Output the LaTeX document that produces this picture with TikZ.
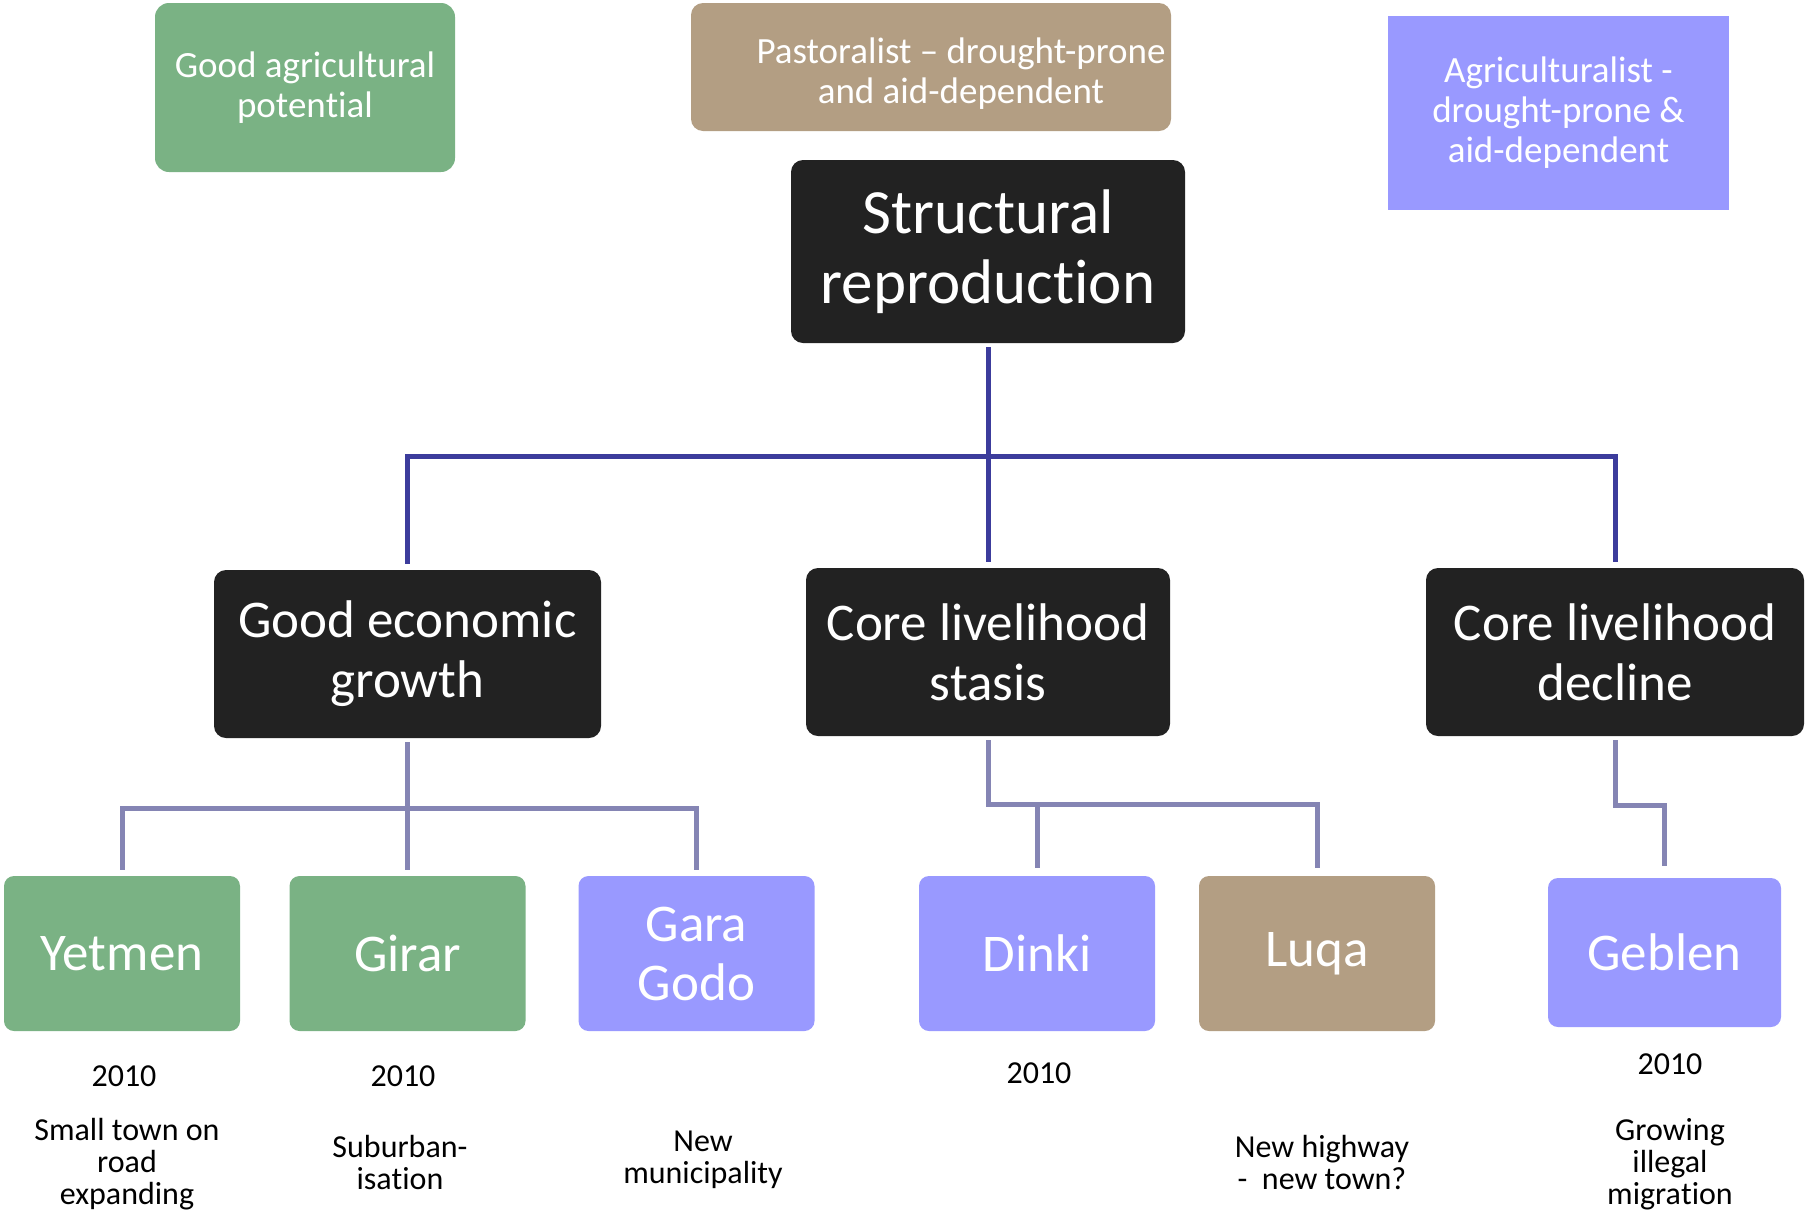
\documentclass[tikz,border=0pt]{standalone}
\usepackage{fontspec}
\setmainfont{Carlito}[Ligatures={NoCommon}]
\newcommand\brk{\kern0pt{}}
\definecolor{cgreen}{RGB}{122,178,132}
\definecolor{ctan}{RGB}{179,158,131}
\definecolor{cblue}{RGB}{153,153,255}
\definecolor{cblack}{RGB}{34,34,34}
\definecolor{cline}{RGB}{60,60,156}
\definecolor{cline2}{RGB}{133,133,180}
\tikzset{
  base/.style={text=white, align=center, inner sep=0pt},
  legend/.style={base, font=\fontsize{18.5pt}{20pt}\selectfont},
  topbox/.style={base, fill=cblack, rounded corners=6pt, font=\fontsize{31.5pt}{35pt}\selectfont},
  midbox/.style={base, fill=cblack, rounded corners=6pt, minimum height=84pt, font=\fontsize{26.5pt}{30pt}\selectfont},
  leaf/.style={base, rounded corners=5pt, minimum width=118pt, minimum height=77.5pt, font=\fontsize{26.5pt}{29.5pt}\selectfont},
  note/.style={align=center, inner sep=0pt, text=black, font=\fontsize{16pt}{16pt}\selectfont},
  l1/.style={draw=cline, line width=2.5pt},
  l2/.style={draw=cline2, line width=2.5pt},
}
\begin{document}
\begin{tikzpicture}[x=0.5pt,y=-0.5pt]
\useasboundingbox (0,0) rectangle (1806,1211);
% legend boxes
\node[legend, fill=cgreen, rounded corners=7pt, minimum width=150pt, minimum height=84.5pt] (lg) at (305,87.5) {Good agricultural\\poten\brk tial};
\fill[ctan, rounded corners=6pt] (691,3) rectangle (1171,131);
\node[legend] (lt) at (961,74) {Pastoralist -- drought-prone\\and aid-dependent};
\node[legend, fill=cblue, minimum width=170.5pt, minimum height=97pt] (lb) at (1558.5,113) {Agriculturalist -\\drought-prone \&\\aid-dependent};
% top
\node[topbox, minimum width=197pt, minimum height=91.5pt] (sr) at (988,251.5) {Structural\\reproduc\brk tion};
% middle
\node[midbox, minimum width=193.5pt] (geg) at (407.5,654) {Good economic\\growth};
\node[midbox, minimum width=182pt] (cls) at (988,652) {Core livelihood\\stasis};
\node[midbox, minimum width=189pt] (dec) at (1615,652) {Core livelihood\\decline};
% leaves
\node[leaf, fill=cgreen] (yet) at (122,953.5) {Yetmen};
\node[leaf, fill=cgreen] (gir) at (407.5,953.5) {Girar};
\node[leaf, fill=cblue] (gara) at (696.5,953.5) {Gara\\Godo};
\node[leaf, fill=cblue] (din) at (1037,953.5) {Dinki};
\node[leaf, fill=ctan] (luq) at (1317,953.5) {Luqa};
\node[leaf, fill=cblue, minimum width=116.5pt, minimum height=74.5pt] (geb) at (1664.5,952.5) {Geblen};
% connectors level 1
\coordinate (j1) at (988,456);
\draw[l1] ([yshift=-2pt]sr.south) -- ([yshift=3pt]cls.north);
\draw[l1] ([yshift=3pt]geg.north) |- (j1) -| ([yshift=3pt]dec.north);
% connectors level 2
\coordinate (j2) at (408,808);
\draw[l2] ([yshift=-2pt]geg.south) -- ([yshift=3pt]gir.north);
\draw[l2] ([yshift=3pt]yet.north) |- (j2) -| ([yshift=3pt]gara.north);
\coordinate (j3) at (988,804);
\draw[l2] ([yshift=-2pt]cls.south) -- (cls.south |- j3) -| ([yshift=4pt]luq.north);
\draw[l2] ([yshift=4pt]din.north) -- (din.north |- j3);
\coordinate (j4) at (1615,805);
\draw[l2] ([yshift=-2pt]dec.south) -- (dec.south |- j4) -| ([yshift=6pt]geb.north);
% notes
\node[note] (n1) at (124,1076) {2010};
\node[note] (n2) at (127,1164) {Small town on\\road\\expanding};
\node[note] (n3) at (403,1076) {2010};
\node[note] (n4) at (400,1162) {Suburban-\\isa\brk tion};
\node[note] (n5) at (703,1160) {New\\municipality};
\node[note] (n6) at (1039,1073) {2010};
\node[note] (n7) at (1322,1162) {New highway\\-\ \ new town?};
\node[note] (n8) at (1670,1064) {2010};
\node[note] (n9) at (1670,1164) {Growing\\illegal\\migra\brk tion};
\end{tikzpicture}
\end{document}
